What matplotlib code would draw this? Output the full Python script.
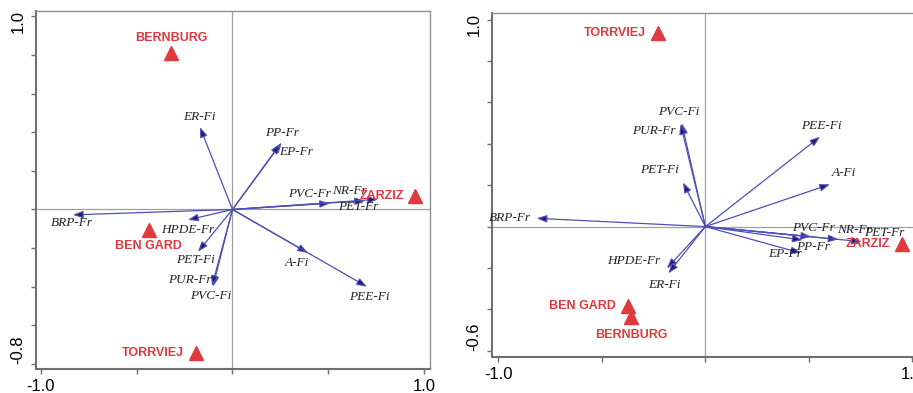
import matplotlib
matplotlib.use("Agg")
import matplotlib.pyplot as plt
from matplotlib.transforms import ScaledTranslation

# left biplot: species arrows
left_species = ["ER-Fi", "PP-Fr", "EP-Fr", "PVC-Fr", "NR-Fr", "PET-Fr", "A-Fi", "PEE-Fi",
                "BRP-Fr", "HPDE-Fr", "PET-Fi", "PUR-Fr", "PVC-Fi"]
left_x = [-0.170, 0.257, 0.250, 0.509, 0.692, 0.760, 0.394, 0.702,
          -0.833, -0.232, -0.180, -0.102, -0.107]
left_y = [0.427, 0.346, 0.340, 0.032, 0.046, 0.053, -0.225, -0.400,
          -0.028, -0.054, -0.219, -0.400, -0.396]

# left biplot: sites
left_sites = ["BERNBURG", "BEN GARD", "TORRVIEJ", "ZARZIZ"]
left_site_x = [-0.321, -0.436, -0.192, 0.953]
left_site_y = [0.811, -0.106, -0.745, 0.070]

# right biplot: species arrows
right_species = ["BRP-Fr", "HPDE-Fr", "ER-Fi", "PVC-Fi", "PUR-Fr", "PET-Fi", "PEE-Fi", "A-Fi",
                 "PVC-Fr", "NR-Fr", "PET-Fr", "PP-Fr", "EP-Fr"]
right_x = [-0.815, -0.186, -0.179, -0.114, -0.120, -0.108, 0.554, 0.602,
           0.511, 0.643, 0.756, 0.470, 0.462]
right_y = [0.040, -0.202, -0.226, 0.499, 0.495, 0.213, 0.434, 0.204,
           -0.049, -0.062, -0.073, -0.065, -0.128]

# right biplot: sites
right_sites = ["TORRVIEJ", "BEN GARD", "BERNBURG", "ZARZIZ"]
right_site_x = [-0.230, -0.372, -0.360, 0.949]
right_site_y = [0.933, -0.384, -0.436, -0.085]

# label placement (offset in pixels from the arrow tip / marker, alignment)
left_species_off = [(-1, 10), (0, 10), (16, -8), (-21, 9), (-16, 10), (-20, -8), (-11, -10),
                    (2, -10), (-1, -8), (0, -10), (-3, -8), (-23, 7), (-1, -10)]
left_site_off = [((0, 15), "center"), ((-1, -16), "center"), ((-12, 0), "right"), ((-11, 0), "right")]
right_species_off = [(-27, 0), (-33, 7), (-4, -12), (-3, 11), (-27, -7), (-24, 12), (1, 11),
                     (14, 11), (2, 9), (16, 9), (22, 9), (10, -7), (-16, -1)]
right_site_off = [((-12, 0), "right"), ((-12, 0), "right"), ((0, -18), "center"), ((-12, 0), "right")]

LINE = "#5050b4"
HEAD = "#1a1a78"
RED = "#e0393e"
GRID = "#a0a0a0"


def draw_panel(ax, names, xs, ys, offs, sites, sx, sy, soffs, xlim, ylim, yticks, ylabels):
    ax.set_xlim(*xlim)
    ax.set_ylim(*ylim)
    ax.axhline(0, color=GRID, lw=0.9, zorder=1)
    ax.axvline(0, color=GRID, lw=0.9, zorder=1)

    for name, x, y, off in zip(names, xs, ys, offs):
        ax.annotate("", xy=(x, y), xytext=(0, 0),
                    arrowprops=dict(arrowstyle="-|>,head_length=0.6,head_width=0.22",
                                    ec=LINE, fc=HEAD, lw=0.9, shrinkA=0, shrinkB=0),
                    zorder=3)
        ax.annotate(name, xy=(x, y), xytext=off, textcoords="offset pixels",
                    ha="center", va="center", fontsize=9.5, style="italic",
                    family="Liberation Serif", color="#222222", zorder=4)

    ax.plot(sx, sy, "^", color=RED, ms=10.5, mec=RED, zorder=5, clip_on=False)
    for name, x, y, (off, ha) in zip(sites, sx, sy, soffs):
        ax.annotate(name, xy=(x, y), xytext=off, textcoords="offset pixels",
                    ha=ha, va="center", fontsize=9, fontweight="bold",
                    family="Liberation Sans", color=RED, zorder=5)

    ax.set_xticks([-1.0, -0.5, 0.0, 0.5, 1.0])
    ax.set_xticklabels(["-1.0", "", "", "", "1.0"])
    ax.set_yticks(yticks)
    ax.set_yticklabels(ylabels, rotation=90)
    ax.tick_params(direction="out", length=3.5, width=1, color="#707070",
                   labelsize=12, pad=4)
    labels = ax.get_yticklabels()
    labels[0].set_va("bottom")
    labels[-1].set_va("center")
    # top label sits a little below its tick, like the original
    labels[-1].set_transform(labels[-1].get_transform()
                             + ScaledTranslation(0, -5 / 100, ax.figure.dpi_scale_trans))
    for t in ax.get_xticklabels() + ax.get_yticklabels():
        t.set_family("Liberation Sans")
    for side in ["left", "bottom"]:
        ax.spines[side].set_color("#707070")
        ax.spines[side].set_linewidth(1.5)
    for side in ["top", "right"]:
        ax.spines[side].set_color("#909090")
        ax.spines[side].set_linewidth(1.0)


fig = plt.figure(figsize=(9.13, 3.93), dpi=100)
ax1 = fig.add_axes([0.0394, 0.0611, 0.4315, 0.911])
ax2 = fig.add_axes([0.5386, 0.0916, 0.4675, 0.876])

left_yticks = [-0.8, -0.6, -0.4, -0.2, 0.0, 0.2, 0.4, 0.6, 0.8, 1.0]
draw_panel(ax1, left_species, left_x, left_y, left_species_off,
           left_sites, left_site_x, left_site_y, left_site_off,
           (-1.026, 1.031), (-0.826, 1.028),
           left_yticks, ["-0.8"] + [""] * 8 + ["1.0"])

right_yticks = [-0.6, -0.4, -0.2, 0.0, 0.2, 0.4, 0.6, 0.8, 1.0]
draw_panel(ax2, right_species, right_x, right_y, right_species_off,
           right_sites, right_site_x, right_site_y, right_site_off,
           (-1.032, 1.03), (-0.63, 1.033),
           right_yticks, ["-0.6"] + [""] * 7 + ["1.0"])

fig.savefig("out.png", dpi=100)
